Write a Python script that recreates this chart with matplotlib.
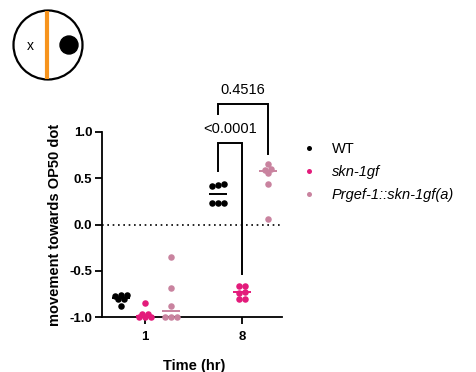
import matplotlib
matplotlib.use("Agg")
import matplotlib.pyplot as plt
import numpy as np
from matplotlib.patches import Circle
from matplotlib.lines import Line2D

# ---------------- data ----------------
time_labels = ["1", "8"]
series_names = ["WT", "skn-1gf", "Prgef-1::skn-1gf(a)"]
wt_1 = [-0.76, -0.76, -0.77, -0.81, -0.81, -0.88]
skn_1 = [-0.85, -0.965, -0.97, -1.00, -1.00, -1.00]
prgef_1 = [-0.35, -0.69, -0.88, -1.00, -1.00, -1.00]
wt_8 = [0.44, 0.43, 0.42, 0.23, 0.23, 0.23]
skn_8 = [-0.66, -0.67, -0.73, -0.74, -0.81, -0.81]
prgef_8 = [0.65, 0.60, 0.59, 0.56, 0.44, 0.06]
p_values = ["<0.0001", "0.4516"]

colors = ["#000000", "#E31B7B", "#C9839F"]

# ---------------- layout ----------------
W, H = 477, 372
fig = plt.figure(figsize=(W / 100, H / 100), dpi=100)
ax_left, ax_right, ax_top, ax_bot = 102, 282, 132, 317
ax = fig.add_axes([ax_left / W, 1 - ax_bot / H, (ax_right - ax_left) / W, (ax_bot - ax_top) / H])

group_centers = np.array([0.0, 1.0])
offsets = np.array([-0.25, 0.0, 0.27])
xlim = (-0.443, 1.412)
ylim = (-1.0, 1.0)
ax.set_xlim(*xlim)
ax.set_ylim(*ylim)
ppx = (ax_right - ax_left) / (xlim[1] - xlim[0])
ppy = (ax_bot - ax_top) / (ylim[1] - ylim[0])

def rows_swarm(vals, d=5.8, tol=0.025):
    """GraphPad-like layout: points binned into rows, each row centred."""
    vals = np.asarray(vals, float)
    order = np.argsort(vals, kind="stable")
    xo = np.zeros(len(vals))
    rows, cur = [], [order[0]]
    for i in order[1:]:
        if abs(vals[i] - vals[cur[0]]) <= tol:
            cur.append(i)
        else:
            rows.append(cur)
            cur = [i]
    rows.append(cur)
    for r in rows:
        n = len(r)
        for k, i in enumerate(r):
            xo[i] = (k - (n - 1) / 2) * d
    return xo / ppx

data = [[wt_1, skn_1, prgef_1], [wt_8, skn_8, prgef_8]]
xpos = {}
for g, grp in enumerate(data):
    for s, vals in enumerate(grp):
        xc = group_centers[g] + offsets[s]
        xpos[(g, s)] = xc
        xs = xc + rows_swarm(vals)
        ax.scatter(xs, vals, s=22, color=colors[s], linewidths=0, zorder=3, clip_on=False)
        med = np.median(vals)
        ax.plot([xc - 0.095, xc + 0.095], [med, med], color=colors[s], lw=1.4, zorder=4,
                solid_capstyle="butt", clip_on=False)

ax.axhline(0, color="black", lw=1.2, ls=(0, (1, 2.2)), zorder=1)

# axes styling
for sp in ["top", "right"]:
    ax.spines[sp].set_visible(False)
for sp in ["left", "bottom"]:
    ax.spines[sp].set_linewidth(1.3)
ax.set_xticks(group_centers)
ax.set_xticklabels(time_labels)
ax.set_yticks([-1.0, -0.5, 0.0, 0.5, 1.0])
ax.set_yticklabels(["-1.0", "-0.5", "0.0", "0.5", "1.0"])
ax.tick_params(axis="both", length=5, width=1.3, labelsize=9.5, pad=2)
ax.tick_params(axis="x", pad=5)
for lab in ax.get_xticklabels() + ax.get_yticklabels():
    lab.set_fontweight("bold")
    lab.set_fontfamily("Liberation Sans")
ax.set_ylabel("movement towards OP50 dot", fontsize=10.5, fontweight="bold", family="Liberation Sans")
ax.yaxis.set_label_coords((62 - ax_left) / (ax_right - ax_left), 0.5)
ax.set_xlabel("Time (hr)", fontsize=10.5, fontweight="bold", family="Liberation Sans")
ax.xaxis.set_label_coords((194 - ax_left) / (ax_right - ax_left), -(359 - ax_bot) / (ax_bot - ax_top))

# significance brackets
bk = dict(color="black", lw=1.4, clip_on=False, zorder=5, solid_joinstyle="miter")
xa, xb = xpos[(1, 0)], xpos[(1, 1)]
ax.plot([xa, xa, xb, xb], [0.58, 0.876, 0.876, -0.54], **bk)
ax.text((xa + xb) / 2, 1.03, p_values[0], ha="center", va="center", fontsize=10.5, family="Liberation Sans")
xa, xc2 = xpos[(1, 0)], xpos[(1, 2)]
ax.plot([xa, xa, xc2, xc2], [1.19, 1.305, 1.305, 0.757], **bk)
ax.text((xa + xc2) / 2, 1.452, p_values[1], ha="center", va="center", fontsize=10.5, family="Liberation Sans")

# legend
handles = [Line2D([], [], ls="none", marker="o", markersize=3.6, markerfacecolor=c, markeredgewidth=0)
           for c in colors]
leg = fig.legend(handles, series_names, loc="upper left", bbox_to_anchor=(294 / W, 1 - 135 / H),
                 frameon=False, prop={"family": "Liberation Sans", "size": 10.5, "style": "italic"},
                 handlelength=1.0, handletextpad=1.1, labelspacing=0.6, borderpad=0)
leg.get_texts()[0].set_fontstyle("normal")

# icon (pixel coords)
iax = fig.add_axes([0, 1 - 92 / H, 95 / W, 92 / H])
iax.set_xlim(0, 95)
iax.set_ylim(92, 0)
iax.set_aspect("equal")
iax.axis("off")
iax.add_patch(Circle((48, 45), 34.5, fill=False, ec="black", lw=1.6))
iax.plot([47, 47], [11, 79], color="#F7941D", lw=3.0, solid_capstyle="butt")
iax.add_patch(Circle((69, 45), 9, color="black"))
iax.text(30, 46, "x", ha="center", va="center", fontsize=10, family="Liberation Sans")

fig.savefig("out.png", dpi=100)
